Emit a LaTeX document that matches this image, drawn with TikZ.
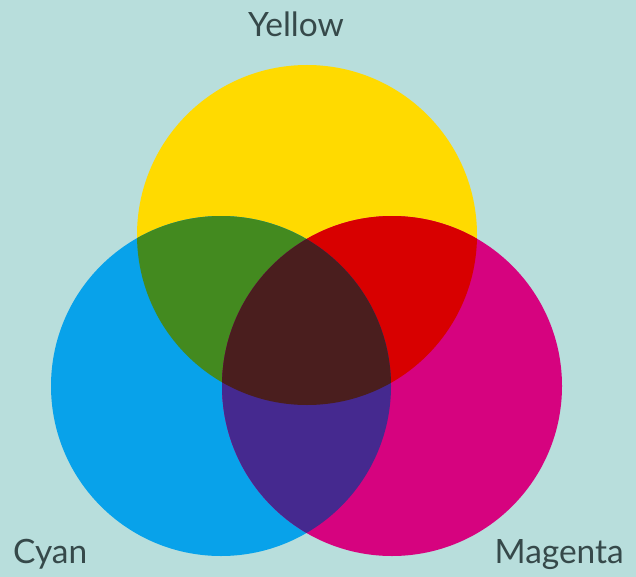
\documentclass[tikz,border=0pt]{standalone}
\usepackage{fontspec}
\setmainfont{Lato}
\definecolor{bg}{HTML}{B8DEDC}
\definecolor{cY}{HTML}{FFDA00}
\definecolor{cC}{HTML}{08A2EA}
\definecolor{cM}{HTML}{D6037F}
\definecolor{cG}{HTML}{438A1F}
\definecolor{cR}{HTML}{D80000}
\definecolor{cP}{HTML}{45298F}
\definecolor{cK}{HTML}{4A1E1E}
\definecolor{txt}{HTML}{36494A}
\tikzset{lbl/.style={text=txt, inner sep=0pt, font=\fontsize{33.5}{38}\selectfont}}
\begin{document}
\begin{tikzpicture}[x=1pt,y=-1pt]
\fill[bg] (0,0) rectangle (636,577);
\useasboundingbox (0,0) rectangle (636,577);
\coordinate (Y) at (307,235);
\coordinate (C) at (221,386);
\coordinate (M) at (392,386);
\def\R{170}
\fill[cY] (Y) circle (\R);
\fill[cC] (C) circle (\R);
\fill[cM] (M) circle (\R);
\begin{scope}
  \clip (Y) circle (\R);
  \fill[cG] (C) circle (\R);
  \fill[cR] (M) circle (\R);
\end{scope}
\begin{scope}
  \clip (C) circle (\R);
  \fill[cP] (M) circle (\R);
  \clip (Y) circle (\R);
  \fill[cK] (M) circle (\R);
\end{scope}
\node[lbl, anchor=base] (ty) at (296,37) {Yellow};
\node[lbl, anchor=base west] (tc) at (13,563) {Cyan};
\node[lbl, anchor=base east] (tm) at (624,563) {Magenta};
\end{tikzpicture}
\end{document}
